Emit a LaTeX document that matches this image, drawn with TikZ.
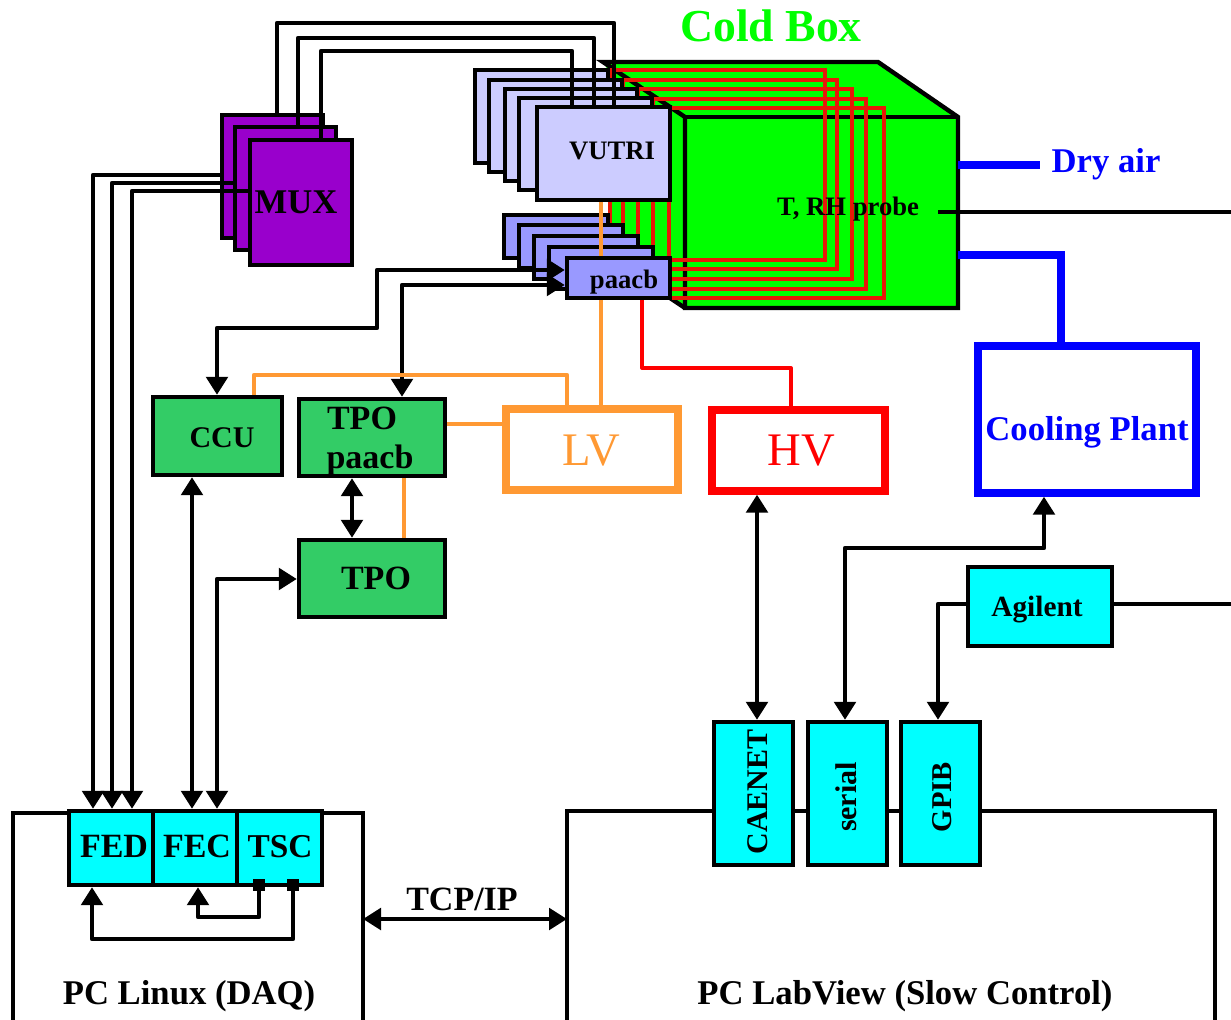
\documentclass[tikz,border=0pt]{standalone}
\usepackage{fontspec}
\setmainfont{Liberation Serif}
\usetikzlibrary{arrows.meta}
\definecolor{cpurple}{HTML}{9900CC}
\definecolor{cvutri}{HTML}{CCCCFF}
\definecolor{cpaacb}{HTML}{9999FF}
\definecolor{cgreen}{HTML}{00FF00}
\definecolor{cdgreen}{HTML}{33CC66}
\definecolor{ccyan}{HTML}{00FFFF}
\definecolor{corange}{HTML}{FF9933}
\definecolor{cred}{HTML}{FF0000}
\definecolor{cloop}{HTML}{E81808}
\definecolor{cblue}{HTML}{0000FF}
% #1 name, #2 style, #3 x1, #4 y1, #5 x2, #6 y2 (pixels)
\newcommand{\pxbox}[6]{%
  \pgfmathsetlengthmacro\pxw{(#5-#3)*0.75pt}%
  \pgfmathsetlengthmacro\pxh{(#6-#4)*0.75pt}%
  \node[#2,minimum width=\pxw,minimum height=\pxh] (#1) at ({(#3+#5)/2},{(#4+#6)/2}) {};%
}
\tikzset{
  x=0.75pt,y=-0.75pt,
  boxb/.style={draw=black,line width=3.3pt,rectangle,inner sep=0pt},
  muxbox/.style={boxb,fill=cpurple},
  vutribox/.style={boxb,fill=cvutri},
  paacbbox/.style={boxb,fill=cpaacb},
  dgbox/.style={boxb,fill=cdgreen},
  cybox/.style={boxb,fill=ccyan},
  openbox/.style={rectangle,inner sep=0pt,outer sep=0pt},
  lvbox/.style={draw=corange,line width=5.5pt,rectangle,inner sep=0pt,fill=white},
  hvbox/.style={draw=cred,line width=5.5pt,rectangle,inner sep=0pt,fill=white},
  coolbox/.style={draw=cblue,line width=5.5pt,rectangle,inner sep=0pt,fill=white},
  wire/.style={draw=black,line width=3.3pt,line join=round},
  arrowwire/.style={wire,-{Triangle[length=13.5pt,width=16pt]}},
  twoway/.style={wire,{Triangle[length=13.5pt,width=16pt]}-{Triangle[length=13.5pt,width=16pt]}},
  owire/.style={draw=corange,line width=3.5pt,line join=round},
  rwire/.style={draw=cred,line width=3pt,line join=round},
  bwire/.style={draw=cblue,line width=5.5pt,line join=miter},
  loop/.style={draw=cloop,line width=3pt,line join=miter},
  boxedge/.style={draw=black,line width=3.3pt,line join=miter},
  lab/.style={font=\bfseries\fontsize{#1}{#1}\selectfont,inner sep=0pt,anchor=base},
  plainlab/.style={font=\fontsize{#1}{#1}\selectfont,inner sep=0pt,anchor=base},
  rotlab/.style={font=\bfseries\fontsize{#1}{#1}\selectfont,inner sep=0pt,rotate=90},
}
\begin{document}
\begin{tikzpicture}
\useasboundingbox (0,0) rectangle (1231,1020);

% Cold box
\coordinate (cbA) at (603,62);
\coordinate (cbB) at (878,62);
\coordinate (cbC) at (958,117);
\coordinate (cbD) at (958,308);
\coordinate (cbE) at (685,308);
\coordinate (cbF) at (685,117);
\fill[cgreen] (cbA) -- (cbB) -- (cbC) -- (cbD) -- (cbE) -- (670,298) -- (608,298) -- (608,70) -- cycle;
\draw[boxedge] (cbA) -- (cbB) -- (cbC) -- (cbD) -- (cbE) -- (cbF) -- cycle;
\draw[boxedge] (cbF) -- (cbC);
\draw[boxedge] (cbE) -- (670,298);

% Red loops
\coordinate (rt1) at (610,70);
\coordinate (rt2) at (623,80);
\coordinate (rt3) at (638,89);
\coordinate (rt4) at (653,99);
\coordinate (rt5) at (669,108);
\draw[loop] (rt1) -- (825,70) -- (825,260) -- (669,260);
\draw[loop] (rt2) -- (837,80) -- (837,269) -- (669,269);
\draw[loop] (rt3) -- (852,89) -- (852,279) -- (669,279);
\draw[loop] (rt4) -- (866,99) -- (866,289) -- (669,289);
\draw[loop] (rt5) -- (884,108) -- (884,298) -- (669,298);
\draw[loop] (rt1) -- (610,240);
\draw[loop] (rt2) -- (623,240);
\draw[loop] (rt3) -- (638,250);
\draw[loop] (rt4) -- (653,260);
\draw[loop] (rt5) -- (669,298);

% VUTRI stack
\pxbox{vb1}{vutribox}{475}{70}{608}{163}
\pxbox{vb2}{vutribox}{489}{80}{622}{172}
\pxbox{vb3}{vutribox}{505}{89}{637}{181}
\pxbox{vb4}{vutribox}{519}{98}{652}{190}
\pxbox{vutri}{vutribox}{537}{107}{670}{200}

% paacb stack
\pxbox{pb1}{paacbbox}{504}{215}{608}{258}
\pxbox{pb2}{paacbbox}{519}{225}{623}{268}
\pxbox{pb3}{paacbbox}{534}{236}{638}{279}
\pxbox{pb4}{paacbbox}{549}{247}{653}{289}
\pxbox{paacb}{paacbbox}{567}{258}{670}{298}

% MUX stack
\pxbox{mb1}{muxbox}{222}{115}{323}{238}
\pxbox{mb2}{muxbox}{235}{127}{336}{250}
\pxbox{mux}{muxbox}{250}{140}{352}{265}

% Green boxes
\pxbox{ccu}{dgbox}{153}{397}{282}{475}
\pxbox{tpop}{dgbox}{299}{399}{445}{476}
\pxbox{tpo}{dgbox}{299}{540}{445}{617}

% Power boxes
\pxbox{lv}{lvbox}{506}{409}{678}{490}
\pxbox{hv}{hvbox}{712}{410}{885}{491}
\pxbox{cool}{coolbox}{978}{346}{1196}{493}

% PCs
\pxbox{pcl}{openbox}{13}{813}{363}{1020}
\pxbox{pcv}{openbox}{567}{811}{1215}{1020}
\draw[wire,line join=miter] (pcl.south west) -- (pcl.north west) -- (pcl.north east) -- (pcl.south east);
\draw[wire,line join=miter] (pcv.south west) -- (pcv.north west) -- (pcv.north east) -- (pcv.south east);

% Cyan boxes
\pxbox{fed}{cybox}{69}{811}{153}{885}
\pxbox{fec}{cybox}{153}{811}{237}{885}
\pxbox{tsc}{cybox}{237}{811}{322}{885}
\pxbox{caenet}{cybox}{714}{722}{793}{865}
\pxbox{serial}{cybox}{808}{722}{887}{865}
\pxbox{gpib}{cybox}{901}{722}{980}{865}
\pxbox{agilent}{cybox}{968}{567}{1112}{646}

% TSC ports
\pxbox{port1}{draw=none,fill=black,rectangle,inner sep=0pt}{253}{879}{265}{891}
\pxbox{port2}{draw=none,fill=black,rectangle,inner sep=0pt}{287}{879}{299}{891}

% Free ends at the picture's edge
\coordinate (rhend) at (1231,212);
\coordinate (agend) at (1231,604);
\coordinate (dryend) at (1040,165);
\coordinate (rhstart) at (938,212);

% MUX to VUTRI
\draw[wire] (mb1.north -| 277,0) -- (277,23) -- (614,23) -- (vutri.north -| 614,0);
\draw[wire] (mb2.north -| 298,0) -- (298,38) -- (594,38) -- (vutri.north -| 594,0);
\draw[wire] (mux.north -| 321,0) -- (321,51) -- (572,51) -- (vutri.north -| 572,0);

% MUX to FED
\draw[arrowwire] (mb1.west |- 0,175) -- (93,175) -- (fed.north -| 93,0);
\draw[arrowwire] (mb2.west |- 0,183) -- (112,183) -- (fed.north -| 112,0);
\draw[arrowwire] (mux.west |- 0,191) -- (132,191) -- (fed.north -| 132,0);

% Control lines
\draw[twoway] (paacb.west |- 0,270) -- (377,270) -- (377,328) -- (217,328) -- (ccu.north -| 217,0);
\draw[twoway] (paacb.west |- 0,285) -- (402,285) -- (tpop.north -| 402,0);
\draw[twoway] (fec.north -| 192,0) -- (ccu.south -| 192,0);
\draw[twoway] (fec.north -| 217,0) -- (217,579) -- (tpo.west |- 0,579);
\draw[twoway] (tpop.south -| 352,0) -- (tpo.north -| 352,0);

% Orange lines
\draw[owire] (vutri.south -| 601,0) -- (paacb.north -| 601,0);
\draw[owire] (paacb.south -| 601,0) -- (lv.north -| 601,0);
\draw[owire] (ccu.north -| 254,0) -- (254,375) -- (567,375) -- (lv.north -| 567,0);
\draw[owire] (tpop.east |- 0,424) -- (lv.west |- 0,424);
\draw[owire] (tpop.south -| 404,0) -- (tpo.north -| 404,0);

% Red line
\draw[rwire] (paacb.south -| 642,0) -- (642,368) -- (791,368) -- (hv.north -| 791,0);

% Blue lines
\draw[bwire] (cbC |- dryend) -- (dryend);
\draw[bwire] (958,255) -- (1061,255) -- (cool.north -| 1061,0);

% Probe line
\draw[wire,line width=2.4pt] (rhstart) -- (rhend);

% Slow control
\draw[twoway] (hv.south -| 757,0) -- (caenet.north -| 757,0);
\draw[twoway] (serial.north -| 845,0) -- (845,548) -- (1044,548) -- (cool.south -| 1044,0);
\draw[arrowwire] (agilent.west |- 0,604) -- (938,604) -- (gpib.north -| 938,0);
\draw[wire] (agilent.east |- 0,604) -- (agend);

% DAQ loop
\draw[arrowwire] (port1.center) -- (259,917) -- (198,917) -- (fec.south -| 198,0);
\draw[arrowwire] (port2.center) -- (293,939) -- (92,939) -- (fed.south -| 92,0);

% TCP/IP
\draw[twoway] (pcl.east |- 0,919) -- (pcv.west |- 0,919);

% Labels
\node[lab=34.3,text=cgreen] (tcold) at (771,42) {Cold Box};
\node[lab=26,text=cblue] (tdry) at (1106,173) {Dry air};
\node[lab=20] (tprobe) at (848,215) {T, RH probe};
\node[lab=26] (tmux) at (296,214) {MUX};
\node[lab=20] (tvutri) at (612,160) {VUTRI};
\node[lab=20] (tpaacb) at (624,288) {paacb};
\node[lab=22.5] (tccu) at (222,447) {CCU};
\node[lab=25.5] (ttpo1) at (362,429) {TPO};
\node[lab=25.5] (tpa2) at (370,468) {paacb};
\node[lab=25.5] (ttpo2) at (376,589) {TPO};
\node[plainlab=35,text=corange] (tlv) at (591,465) {LV};
\node[plainlab=35,text=cred] (thv) at (801,465) {HV};
\node[lab=26,text=cblue] (tcool) at (1087,440) {Cooling Plant};
\node[lab=22] (tagi) at (1037,616) {Agilent};
\node[rotlab=22.5] (tcaen) at (758,792) {CAENET};
\node[rotlab=22.5] (tser) at (846,797) {serial};
\node[rotlab=21.5] (tgpib) at (942,797) {GPIB};
\node[lab=25.5] (tfed) at (114,857) {FED};
\node[lab=25.5] (tfec) at (197,857) {FEC};
\node[lab=25] (ttsc) at (280,857) {TSC};
\node[lab=25.5] (ttcp) at (462,910) {TCP/IP};
\node[lab=26] (tpcl) at (189,1004) {PC Linux (DAQ)};
\node[lab=26] (tpcv) at (905,1004) {PC LabView (Slow Control)};
\end{tikzpicture}
\end{document}
